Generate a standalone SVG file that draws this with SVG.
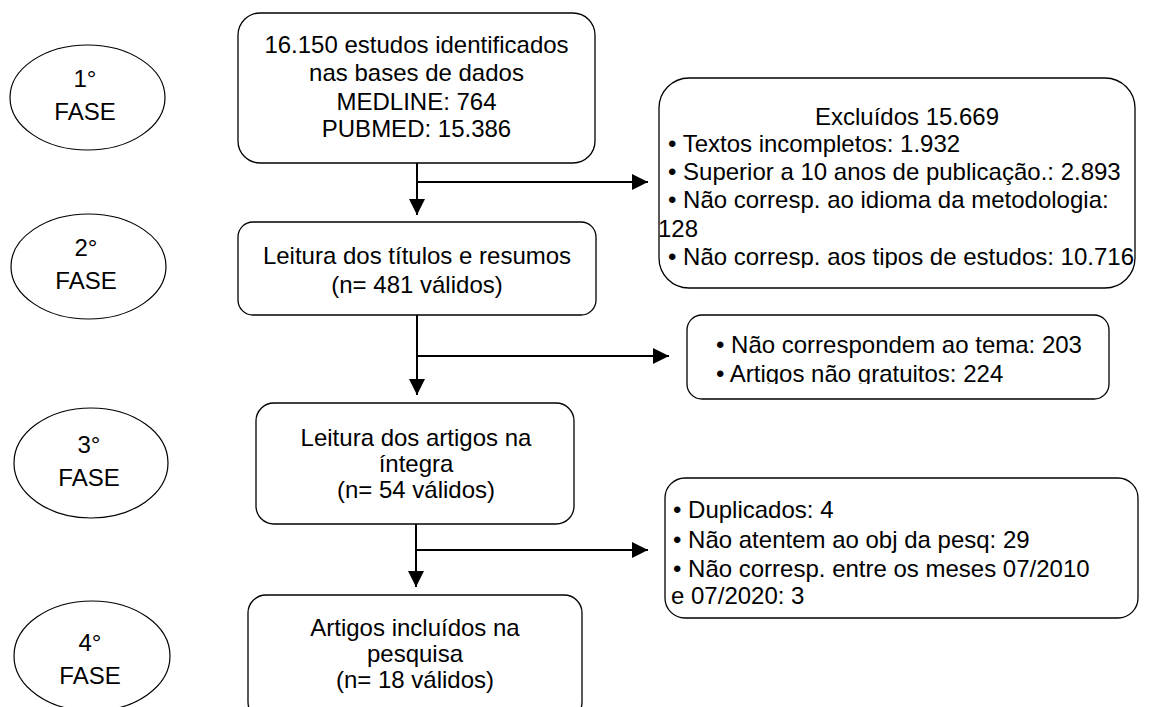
<svg xmlns="http://www.w3.org/2000/svg" width="1158" height="707" viewBox="0 0 1158 707">
<style>
text{font-family:"Liberation Sans",Arial,sans-serif;font-size:24px;fill:#000}
.c{text-anchor:middle}
.box{fill:#fff;stroke:#000;stroke-width:1.3}
.ph{fill:#fff;stroke:#000;stroke-width:1.2}
.ln{fill:none;stroke:#000;stroke-width:2}
</style>
<defs>
<marker id="ah" markerWidth="16" markerHeight="16" viewBox="0 0 16 16" refX="16" refY="8" orient="auto" markerUnits="userSpaceOnUse">
<path d="M0,0 L16,8 L0,16 Z" fill="#000"/>
</marker>
<clipPath id="clipEx"><rect x="650" y="70" width="508" height="198"/></clipPath>
<clipPath id="clipNc"><rect x="680" y="310" width="440" height="74"/></clipPath>
</defs>

<g id="fase1"><ellipse class="ph" cx="87.5" cy="97.5" rx="77.5" ry="52.5"/><text class="c" x="85" y="87">1°</text><text class="c" x="85" y="120">FASE</text></g>
<g id="fase2"><ellipse class="ph" cx="88.5" cy="266.5" rx="77.5" ry="52.5"/><text class="c" x="86" y="256">2°</text><text class="c" x="86" y="289">FASE</text></g>
<g id="fase3"><ellipse class="ph" cx="91" cy="463" rx="77" ry="55"/><text class="c" x="89" y="453">3°</text><text class="c" x="89" y="486">FASE</text></g>
<g id="fase4"><ellipse class="ph" cx="92" cy="656" rx="78" ry="55"/><text class="c" x="90" y="651">4°</text><text class="c" x="90" y="684">FASE</text></g>

<g id="box1"><rect class="box" x="238" y="13" width="357" height="150" rx="22"/>
<text class="c" x="416.5" y="53">16.150 estudos identificados</text>
<text class="c" x="416.5" y="81">nas bases de dados</text>
<text class="c" x="416.5" y="110">MEDLINE: 764</text>
<text class="c" x="416.5" y="137">PUBMED: 15.386</text></g>

<g id="box2"><rect class="box" x="238" y="222" width="358" height="93" rx="15"/>
<text class="c" x="417" y="264">Leitura dos títulos e resumos</text>
<text class="c" x="417" y="293">(n= 481 válidos)</text></g>

<g id="box3"><rect class="box" x="256" y="403" width="318" height="121" rx="18"/>
<text class="c" x="416" y="446">Leitura dos artigos na</text>
<text class="c" x="416" y="472">íntegra</text>
<text class="c" x="416" y="498">(n= 54 válidos)</text></g>

<g id="box4"><rect class="box" x="248" y="595" width="334" height="125" rx="18"/>
<text class="c" x="415" y="636">Artigos incluídos na</text>
<text class="c" x="415" y="662">pesquisa</text>
<text class="c" x="415" y="688">(n= 18 válidos)</text></g>

<g id="excluidos"><rect class="box" x="659" y="78" width="476" height="210" rx="30"/>
<g clip-path="url(#clipEx)">
<text class="c" x="907" y="125">Excluídos 15.669</text>
<text x="668" y="152">• Textos incompletos: 1.932</text>
<text x="668" y="180">• Superior a 10 anos de publicação.: 2.893</text>
<text x="668" y="208">• Não corresp. ao idioma da metodologia:</text>
<text x="658" y="237">128</text>
<text x="668" y="265">• Não corresp. aos tipos de estudos: 10.716</text>
</g></g>

<g id="tema"><rect class="box" x="687" y="315" width="422" height="84" rx="15"/>
<g clip-path="url(#clipNc)">
<text x="716" y="353">• Não correspondem ao tema: 203</text>
<text x="716" y="382">• Artigos não gratuitos: 224</text>
</g></g>

<g id="duplicados"><rect class="box" x="665" y="478" width="473" height="140" rx="20"/>
<text x="673" y="518">• Duplicados: 4</text>
<text x="673" y="548">• Não atentem ao obj da pesq: 29</text>
<text x="673" y="577">• Não corresp. entre os meses 07/2010</text>
<text x="671" y="604">e 07/2020: 3</text></g>

<g id="connectors">
<line class="ln" x1="417" y1="163" x2="417" y2="215" marker-end="url(#ah)"/>
<line class="ln" x1="417" y1="182" x2="648" y2="182" marker-end="url(#ah)"/>
<line class="ln" x1="417" y1="315" x2="417" y2="395" marker-end="url(#ah)"/>
<line class="ln" x1="417" y1="356" x2="669" y2="356" marker-end="url(#ah)"/>
<line class="ln" x1="416" y1="524" x2="416" y2="587" marker-end="url(#ah)"/>
<line class="ln" x1="416" y1="550" x2="648" y2="550" marker-end="url(#ah)"/>
</g>
</svg>
